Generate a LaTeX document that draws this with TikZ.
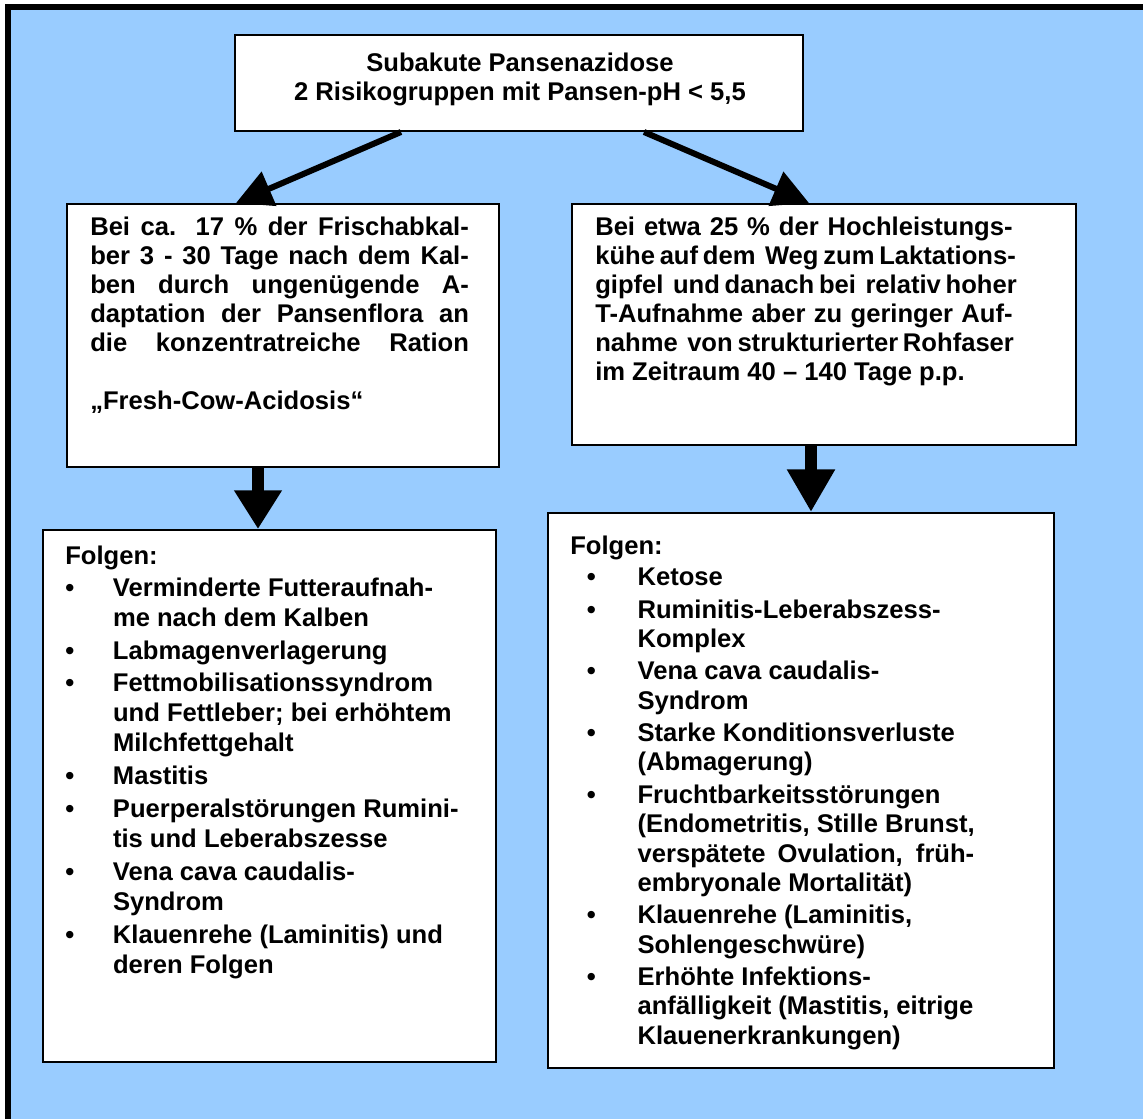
\documentclass[tikz,border=0pt]{standalone}
\usepackage{fontspec}
\setmainfont{Liberation Sans}
\usetikzlibrary{arrows.meta,calc,fit}
\definecolor{bgblue}{HTML}{99CCFF}
\tikzset{
  box/.style={draw=black, line width=1.5pt, fill=white, rectangle, inner sep=0pt},
  txtA/.style={anchor=base west, inner sep=0pt, font=\fontsize{19.2pt}{21.75pt}\selectfont\bfseries},
  txtB/.style={anchor=base west, inner sep=0pt, font=\fontsize{19.2pt}{22.5pt}\selectfont\bfseries},
  txtC/.style={anchor=base west, inner sep=0pt, font=\fontsize{19.2pt}{22.1pt}\selectfont\bfseries},
  diagarrow/.style={line width=4.5pt, -{Triangle[length=27pt,width=27pt]}},
  vertarrowL/.style={line width=9pt, -{Triangle[length=29pt,width=34pt]}},
  vertarrowR/.style={line width=9pt, -{Triangle[length=32pt,width=34pt]}},
}
\newcommand{\gpL}{\\[2.1pt]}
\newcommand{\gpR}{\\[2.06pt]}
\newcommand{\jl}[1]{\makebox[284pt][s]{#1}}
\newcommand{\jr}[1]{\makebox[313pt][s]{#1}}
\begin{document}
\begin{tikzpicture}[x=0.75pt,y=-0.75pt]
\useasboundingbox (0,0) rectangle (1143,1119);
\fill[white] (0,0) rectangle (1143,1119);
\draw[line width=4.5pt, fill=bgblue] (8,7) rectangle (1170,1140);

% boxes
\node[box, fit={(235,35)(803,131)}] (top) {};
\node[box, fit={(67,204)(499,467)}] (lb) {};
\node[box, fit={(572,204)(1076,445)}] (rb) {};
\node[box, fit={(43,530)(496,1062)}] (lc) {};
\node[box, fit={(548,513)(1054,1068)}] (rc) {};

% arrows
\draw[diagarrow] ($(top.south west)+(167,0)$) -- ($(lb.north west)+(170,0)$);
\draw[diagarrow] ($(top.south west)+(410,0)$) -- ($(rb.north west)+(238,0)$);
\draw[vertarrowL] ($(lb.south west)+(192,0)$) -- ($(lc.north west)+(216,0)$);
\draw[vertarrowR] ($(rb.south west)+(240,0)$) -- ($(rc.north west)+(264,0)$);

% texts
\node[txtA, anchor=base] (toptxt) at (520,72) {\begin{tabular}[t]{@{}c@{}}Subakute Pansenazidose\\2 Risikogruppen mit Pansen-pH < 5,5\end{tabular}};

\node[txtA] (lbtxt) at (90,236) {\begin{tabular}[t]{@{}l@{}}
\jl{Bei ca. 17 \% der Frischabkal-}\\
\jl{ber 3 - 30 Tage nach dem Kal-}\\
\jl{ben durch ungenügende A-}\\
\jl{daptation der Pansenflora an}\\
\jl{die konzentratreiche Ration}\\
\\
„Fresh-Cow-Acidosis“
\end{tabular}};

\node[txtA] (rbtxt) at (595,236) {\begin{tabular}[t]{@{}l@{}}
\jr{Bei etwa 25 \% der Hochleistungs-}\\
\jr{kühe auf dem\ \ Weg zum Laktations-}\\
\jr{gipfel\ \ und danach bei\ \ relativ hoher}\\
\jr{T-Aufnahme aber zu geringer Auf-}\\
\jr{nahme\ \ von strukturierter Rohfaser}\\
im Zeitraum 40 – 140 Tage p.p.
\end{tabular}};

\node[txtB] (lctxt) at (65,565) {\begin{tabular}[t]{@{}p{35.8pt}@{}l@{}}
\multicolumn{2}{@{}l@{}}{Folgen:}\\[1pt]
\textbullet & Verminderte Futteraufnah-\\
 & me nach dem Kalben\gpL
\textbullet & Labmagenverlagerung\gpL
\textbullet & Fettmobilisationssyndrom\\
 & und Fettleber; bei erhöhtem\\
 & Milchfettgehalt\gpL
\textbullet & Mastitis\gpL
\textbullet & Puerperalstörungen Rumini-\\
 & tis und Leberabszesse\gpL
\textbullet & Vena cava caudalis-\\
 & Syndrom\gpL
\textbullet & Klauenrehe (Laminitis) und\\
 & deren Folgen
\end{tabular}};

\node[txtC] (rctxt) at (570,555) {\begin{tabular}[t]{@{}p{12.5pt}@{}p{38pt}@{}l@{}}
\multicolumn{3}{@{}l@{}}{Folgen:}\\[1.1pt]
 & \textbullet & Ketose\gpR
 & \textbullet & Ruminitis-Leberabszess-\\
 & & Komplex\gpR
 & \textbullet & Vena cava caudalis-\\
 & & Syndrom\gpR
 & \textbullet & Starke Konditionsverluste\\
 & & (Abmagerung)\gpR
 & \textbullet & Fruchtbarkeitsstörungen\\
 & & (Endometritis, Stille Brunst,\\
 & & \makebox[252.5pt][s]{verspätete Ovulation, früh-}\\
 & & embryonale Mortalität)\gpR
 & \textbullet & Klauenrehe (Laminitis,\\
 & & Sohlengeschwüre)\gpR
 & \textbullet & Erhöhte Infektions-\\
 & & anfälligkeit (Mastitis, eitrige\\
 & & Klauenerkrankungen)
\end{tabular}};
\end{tikzpicture}
\end{document}
